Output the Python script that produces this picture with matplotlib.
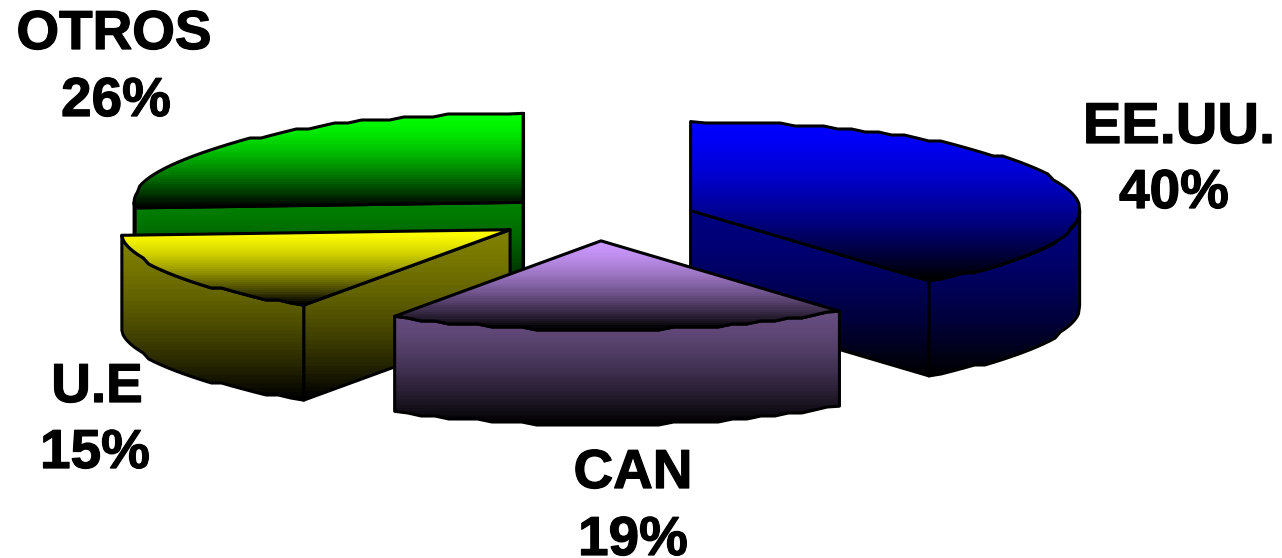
#!/usr/bin/env python3
import numpy as np
import matplotlib
matplotlib.use('Agg')
import matplotlib.pyplot as plt
import matplotlib.patheffects as pe
from matplotlib.patches import Polygon

# datos (sentido horario desde arriba)
categories = ['EE.UU.', 'CAN', 'U.E', 'OTROS']
shares = [39.5, 19.4, 15.1, 26.0]
percent_labels = ['40%', '19%', '15%', '26%']
colors = ['#0000ff', '#cc99ff', '#ffff00', '#00ff00']

W, H = 1282, 558
RX, RY = 389, 89
DEPTH = 95
EXPLODE = 100
CX, CY = 596, 218
LW = 2.2

plt.rcParams['font.family'] = ['Liberation Sans', 'DejaVu Sans']

fig = plt.figure(figsize=(W / 100, H / 100), dpi=100)
ax = fig.add_axes([0, 0, 1, 1])


def arc_points(cx, cy, t0, t1):
    # puntos del borde, con y redondeada para el borde escalonado del original
    n = max(2, int(abs(t1 - t0) / 2.2) + 1)
    t = np.radians(np.linspace(t0, t1, n))
    x = cx + RX * np.sin(t)
    y = cy - RY * np.cos(t)
    y[1:-1] = np.round(y[1:-1] / 3) * 3
    return np.column_stack([x, y])


def fill_gradient(points, rgb, start, bottom, z):
    points = np.asarray(points)
    top = points[:, 1].min()
    poly = Polygon(points, closed=True, facecolor='none', edgecolor='black',
                   linewidth=LW, joinstyle='round', zorder=z + 0.5)
    ax.add_patch(poly)
    s = np.linspace(0, 1, 40)
    level = start * (1 - s ** 1.5)
    img = np.outer(level, np.array(rgb)).reshape(40, 1, 3)
    im = ax.imshow(img, extent=(0, W, bottom, top), aspect='auto',
                   interpolation='nearest', zorder=z)
    im.set_clip_path(poly)


# angulos de cada sector
bounds = np.concatenate([[0], np.cumsum(shares)]) / sum(shares) * 360
slices = []
for i in range(len(categories)):
    t0, t1 = bounds[i], bounds[i + 1]
    mid = np.radians((t0 + t1) / 2)
    cx = CX + EXPLODE * np.sin(mid)
    cy = CY - EXPLODE * RY / RX * np.cos(mid)
    slices.append((i, t0, t1, cx, cy))

# orden de dibujo: atras hacia adelante
z = 1
for i in [3, 0, 2, 1]:
    _, t0, t1, cx, cy = slices[i]
    rgb = matplotlib.colors.to_rgb(colors[i])
    arc = arc_points(cx, cy, t0, t1)
    wall_bottom = arc[:, 1].max() + DEPTH
    centre = np.array([cx, cy])
    drop = np.array([0, DEPTH])

    # paredes radiales, solo las que miran hacia adelante
    edges = []
    if np.sin(np.radians(t0)) < 1e-6:
        edges.append(arc[0])
    if np.sin(np.radians(t1)) > -1e-6:
        edges.append(arc[-1])
    for edge in edges:
        quad = [centre, edge, edge + drop, centre + drop]
        fill_gradient(quad, rgb, 0.5, wall_bottom, z)
        z += 1

    # pared exterior, solo la parte de adelante
    lo, hi = max(t0, 90), min(t1, 270)
    if hi > lo:
        front = arc_points(cx, cy, lo, hi)
        wall = np.vstack([front, (front + drop)[::-1]])
        fill_gradient(wall, rgb, 0.5, wall_bottom, z)
        z += 1

    # cara superior
    top_face = np.vstack([centre, arc])
    fill_gradient(top_face, rgb, 1.0, top_face[:, 1].max(), z)
    z += 1

# etiquetas
label_xy = [(1179, 143), (633, 488), (97, 402), (114, 49)]
value_xy = [(1174, 208), (633, 555), (95, 468), (116, 116)]
label_size = [41.5, 39.5, 39.5, 39.5]
thicken = [pe.withStroke(linewidth=0.9, foreground='black')]
for i in range(len(categories)):
    ax.text(*label_xy[i], categories[i], fontsize=label_size[i], fontweight='bold',
            ha='center', va='baseline', zorder=200, path_effects=thicken)
    ax.text(*value_xy[i], percent_labels[i], fontsize=39.5, fontweight='bold',
            ha='center', va='baseline', zorder=200, path_effects=thicken)

ax.set_xlim(0, W)
ax.set_ylim(H, 0)
ax.axis('off')
fig.savefig('out.png', dpi=100, facecolor='white')
